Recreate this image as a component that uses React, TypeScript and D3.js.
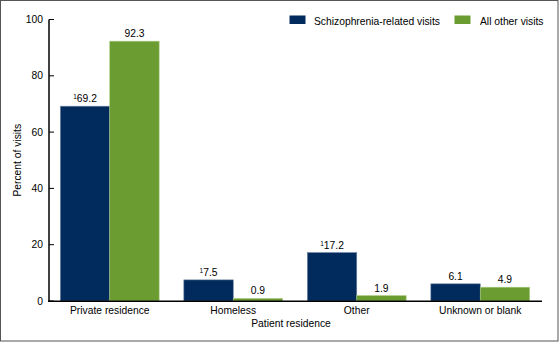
import React from "react";
import * as d3 from "d3";

const categories = ["Private residence", "Homeless", "Other", "Unknown or blank"];
const schizoValues = [69.2, 7.5, 17.2, 6.1];
const otherValues = [92.3, 0.9, 1.9, 4.9];
const schizoNotes = ["1", "1", "1", ""];
const otherNotes = ["", "", "", ""];
const seriesNames = ["Schizophrenia-related visits", "All other visits"];
const yTicks = [0, 20, 40, 60, 80, 100];

const W = 560;
const H = 343;
const FONT = "'Liberation Sans', Arial, sans-serif";
const FS = 10.3;
const BLUE = "#002b5c";
const GREEN = "#6b9c31";

export default function App() {
  const y = d3.scaleLinear().domain([0, 100]).range([301, 19.5]);
  const x = d3.scaleBand<string>().domain(categories).range([48, 542]).paddingInner(0.2).paddingOuter(0.1);
  const sub = d3.scaleBand<string>().domain(["s", "o"]).range([0, x.bandwidth()]);

  const series = [
    { key: "s", values: schizoValues, notes: schizoNotes, color: BLUE, stroke: "#6f84a3" },
    { key: "o", values: otherValues, notes: otherNotes, color: GREEN, stroke: "#a9c97f" },
  ];

  const axisX = 49;
  const axisMid = (y(0) + y(100)) / 2;

  return (
    <svg
      width={W}
      height={H}
      style={{ position: "absolute", left: 0, top: 0, background: "#fff" }}
      fontFamily={FONT}
      fontSize={FS}
    >
      <rect x={0.5} y={0.5} width={557.5} height={340.5} fill="#fff" stroke="#555" strokeWidth={1} />

      {/* bars */}
      {series.map((s) =>
        categories.map((c, i) => {
          const bx = (x(c) as number) + (sub(s.key) as number);
          const bw = sub.bandwidth();
          const v = s.values[i];
          const top = y(v);
          return (
            <g key={s.key + c}>
              <rect
                x={bx}
                y={top}
                width={bw}
                height={y(0) - top}
                fill={s.color}
                stroke={s.stroke}
                strokeWidth={0.6}
              />
              <text x={bx + bw / 2} y={top - 4} textAnchor="middle" fill="#000">
                {s.notes[i] ? (
                  <tspan fontSize={6.5} dy={-3}>
                    {s.notes[i]}
                  </tspan>
                ) : null}
                <tspan dy={s.notes[i] ? 3 : 0}>{v.toFixed(1)}</tspan>
              </text>
            </g>
          );
        })
      )}

      {/* y axis */}
      <line x1={axisX} x2={axisX} y1={y(100)} y2={y(0)} stroke="#000" strokeWidth={1.5} />
      {yTicks.map((t) => (
        <g key={t}>
          <line x1={axisX} x2={axisX + 5} y1={y(t)} y2={y(t)} stroke="#000" strokeWidth={1} />
          <text x={43} y={y(t) + 3.6} textAnchor="end" fill="#000">
            {t}
          </text>
        </g>
      ))}
      <text
        transform={`translate(21,${axisMid}) rotate(-90)`}
        textAnchor="middle"
        fill="#000"
      >
        Percent of visits
      </text>

      {/* x axis */}
      <line x1={48} x2={542} y1={y(0) + 0.3} y2={y(0) + 0.3} stroke="#000" strokeWidth={1.6} />
      {categories.map((c) => (
        <text key={c} x={(x(c) as number) + x.bandwidth() / 2} y={314} textAnchor="middle" fill="#000">
          {c}
        </text>
      ))}
      <text x={291} y={327} textAnchor="middle" fill="#000">
        Patient residence
      </text>

      {/* legend */}
      <rect x={289.5} y={15.5} width={16} height={8.5} fill={BLUE} />
      <text x={314} y={25} fill="#000">
        {seriesNames[0]}
      </text>
      <rect x={454.5} y={15.5} width={16} height={8.5} fill={GREEN} />
      <text x={480} y={25} fill="#000">
        {seriesNames[1]}
      </text>
    </svg>
  );
}
